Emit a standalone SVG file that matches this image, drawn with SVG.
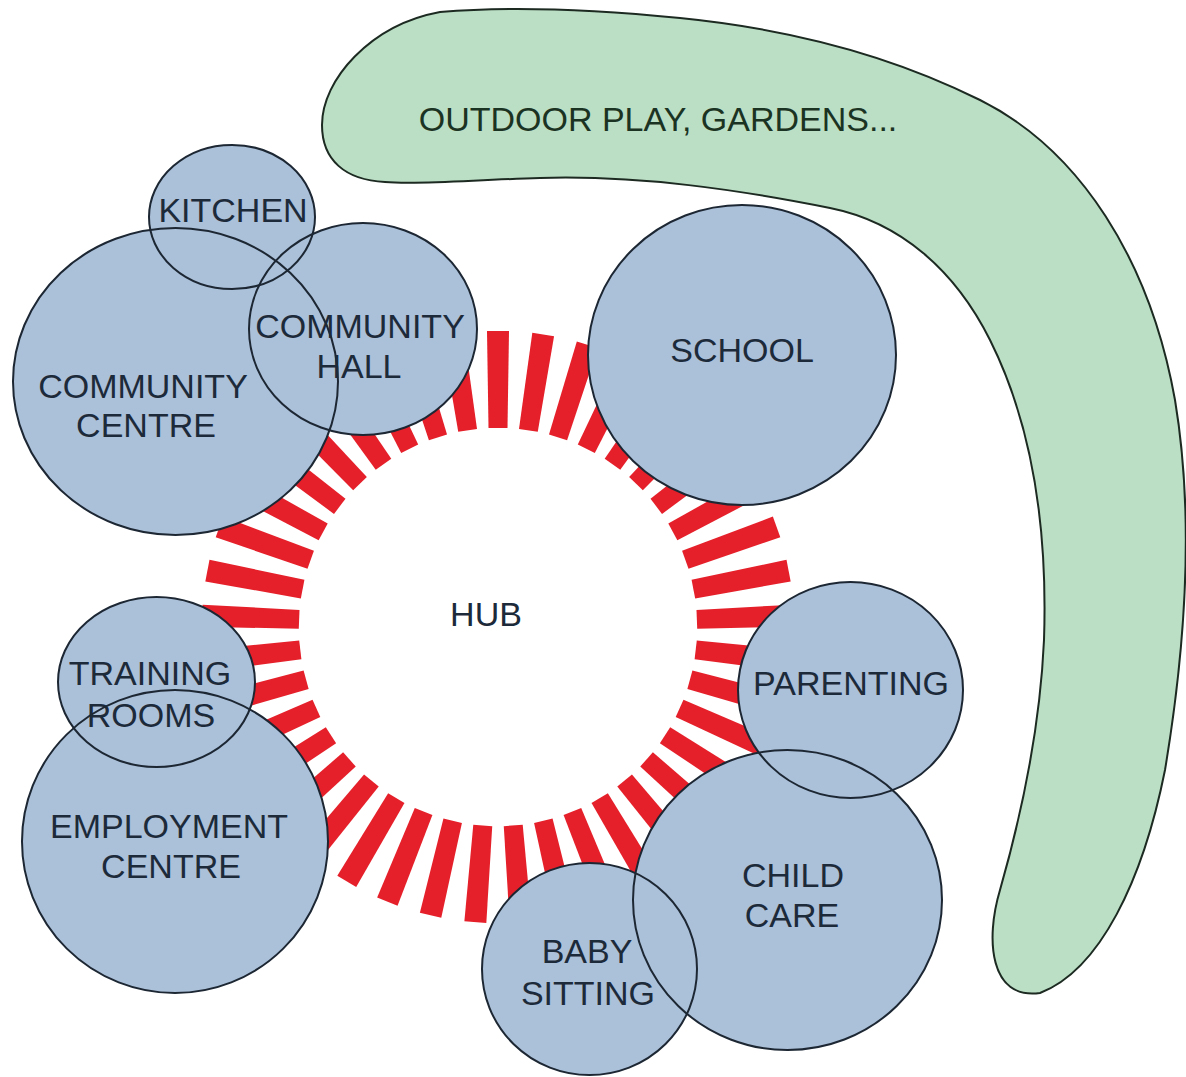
<svg xmlns="http://www.w3.org/2000/svg" xmlns:xlink="http://www.w3.org/1999/xlink" width="1186" height="1077" viewBox="0 0 1186 1077">
<style>
  .lbl { font-family: "Liberation Sans", Arial, sans-serif; font-size: 34px; fill: #1c2a3a; text-anchor: middle; }
  .glbl { font-family: "Liberation Sans", Arial, sans-serif; font-size: 34px; fill: #1b3322; text-anchor: middle; }
  .fill { fill: #abc0d9; stroke: none; }
  .outline { fill: none; stroke: #1c2733; stroke-width: 2; }
  .dash { fill: #e5202a; }
</style>
<defs>
  <polygon id="dash" class="dash" points="-11,-296 11,-296 9.5,-199 -9.5,-199"/>
  <ellipse id="e-kitchen" cx="232" cy="217" rx="83" ry="72"/>
  <ellipse id="e-ccentre" cx="175.5" cy="381.5" rx="162.5" ry="153.5"/>
  <ellipse id="e-chall" cx="363" cy="329" rx="114" ry="106"/>
  <ellipse id="e-school" cx="742" cy="355" rx="154" ry="150"/>
  <ellipse id="e-parenting" cx="850.5" cy="690" rx="112.5" ry="108"/>
  <ellipse id="e-childcare" cx="787.5" cy="900" rx="154.5" ry="150"/>
  <ellipse id="e-baby" cx="589.5" cy="969" rx="107.5" ry="106"/>
  <ellipse id="e-training" cx="156.5" cy="682" rx="98.5" ry="85"/>
  <ellipse id="e-employment" cx="175" cy="841.5" rx="153" ry="151.5"/>
</defs>
<rect width="1186" height="1077" fill="#ffffff"/>

<g id="hub">
  <g transform="translate(498 627)">
    <use href="#dash" transform="rotate(0)"/>
    <use href="#dash" transform="rotate(8.7805)"/>
    <use href="#dash" transform="rotate(17.561)"/>
    <use href="#dash" transform="rotate(26.3415)"/>
    <use href="#dash" transform="rotate(35.122)"/>
    <use href="#dash" transform="rotate(43.9024)"/>
    <use href="#dash" transform="rotate(52.6829)"/>
    <use href="#dash" transform="rotate(61.4634)"/>
    <use href="#dash" transform="rotate(70.2439)"/>
    <use href="#dash" transform="rotate(79.0244)"/>
    <use href="#dash" transform="rotate(87.8049)"/>
    <use href="#dash" transform="rotate(96.5854)"/>
    <use href="#dash" transform="rotate(105.3659)"/>
    <use href="#dash" transform="rotate(114.1463)"/>
    <use href="#dash" transform="rotate(122.9268)"/>
    <use href="#dash" transform="rotate(131.7073)"/>
    <use href="#dash" transform="rotate(140.4878)"/>
    <use href="#dash" transform="rotate(149.2683)"/>
    <use href="#dash" transform="rotate(158.0488)"/>
    <use href="#dash" transform="rotate(166.8293)"/>
    <use href="#dash" transform="rotate(175.6098)"/>
    <use href="#dash" transform="rotate(184.3902)"/>
    <use href="#dash" transform="rotate(193.1707)"/>
    <use href="#dash" transform="rotate(201.9512)"/>
    <use href="#dash" transform="rotate(210.7317)"/>
    <use href="#dash" transform="rotate(219.5122)"/>
    <use href="#dash" transform="rotate(228.2927)"/>
    <use href="#dash" transform="rotate(237.0732)"/>
    <use href="#dash" transform="rotate(245.8537)"/>
    <use href="#dash" transform="rotate(254.6341)"/>
    <use href="#dash" transform="rotate(263.4146)"/>
    <use href="#dash" transform="rotate(272.1951)"/>
    <use href="#dash" transform="rotate(280.9756)"/>
    <use href="#dash" transform="rotate(289.7561)"/>
    <use href="#dash" transform="rotate(298.5366)"/>
    <use href="#dash" transform="rotate(307.3171)"/>
    <use href="#dash" transform="rotate(316.0976)"/>
    <use href="#dash" transform="rotate(324.878)"/>
    <use href="#dash" transform="rotate(333.6585)"/>
    <use href="#dash" transform="rotate(342.439)"/>
    <use href="#dash" transform="rotate(351.2195)"/>
  </g>
  <text class="lbl" x="486" y="626">HUB</text>
</g>

<g id="outdoor">
  <path d="M 322,125 C 322,80 370,25 440,12 C 510,6 590,9 680,18 C 800,30 900,60 980,100 C 1080,150 1150,260 1175,400 C 1195,520 1185,650 1165,770 C 1143,880 1100,970 1040,993 C 990,1000 985,940 1000,890 C 1020,820 1040,730 1044,640 C 1048,520 1030,420 990,340 C 955,270 900,222 830,208 C 740,190 640,175 540,178 C 470,180 420,185 385,182 C 345,180 322,160 322,125 Z" fill="#bbdfc5" stroke="#1c2a22" stroke-width="2"/>
  <text class="glbl" x="658" y="131">OUTDOOR PLAY, GARDENS...</text>
</g>

<g id="node-fills">
  <use href="#e-kitchen" class="fill"/>
  <use href="#e-ccentre" class="fill"/>
  <use href="#e-chall" class="fill"/>
  <use href="#e-school" class="fill"/>
  <use href="#e-parenting" class="fill"/>
  <use href="#e-childcare" class="fill"/>
  <use href="#e-baby" class="fill"/>
  <use href="#e-training" class="fill"/>
  <use href="#e-employment" class="fill"/>
</g>

<g id="kitchen">
  <use href="#e-kitchen" class="outline"/>
  <text class="lbl" x="233" y="222">KITCHEN</text>
</g>
<g id="community-centre">
  <use href="#e-ccentre" class="outline"/>
  <text class="lbl" x="143" y="398">COMMUNITY</text>
  <text class="lbl" x="146" y="437">CENTRE</text>
</g>
<g id="community-hall">
  <use href="#e-chall" class="outline"/>
  <text class="lbl" x="360" y="338">COMMUNITY</text>
  <text class="lbl" x="359" y="378">HALL</text>
</g>
<g id="school">
  <use href="#e-school" class="outline"/>
  <text class="lbl" x="742" y="362">SCHOOL</text>
</g>
<g id="parenting">
  <use href="#e-parenting" class="outline"/>
  <text class="lbl" x="851" y="695">PARENTING</text>
</g>
<g id="child-care">
  <use href="#e-childcare" class="outline"/>
  <text class="lbl" x="793" y="887">CHILD</text>
  <text class="lbl" x="792" y="927">CARE</text>
</g>
<g id="baby-sitting">
  <use href="#e-baby" class="outline"/>
  <text class="lbl" x="587" y="963">BABY</text>
  <text class="lbl" x="588" y="1005">SITTING</text>
</g>
<g id="training-rooms">
  <use href="#e-training" class="outline"/>
  <text class="lbl" x="150" y="685">TRAINING</text>
  <text class="lbl" x="151" y="727">ROOMS</text>
</g>
<g id="employment-centre">
  <use href="#e-employment" class="outline"/>
  <text class="lbl" x="169" y="838">EMPLOYMENT</text>
  <text class="lbl" x="171" y="878">CENTRE</text>
</g>

<g id="connectors"></g>
</svg>
